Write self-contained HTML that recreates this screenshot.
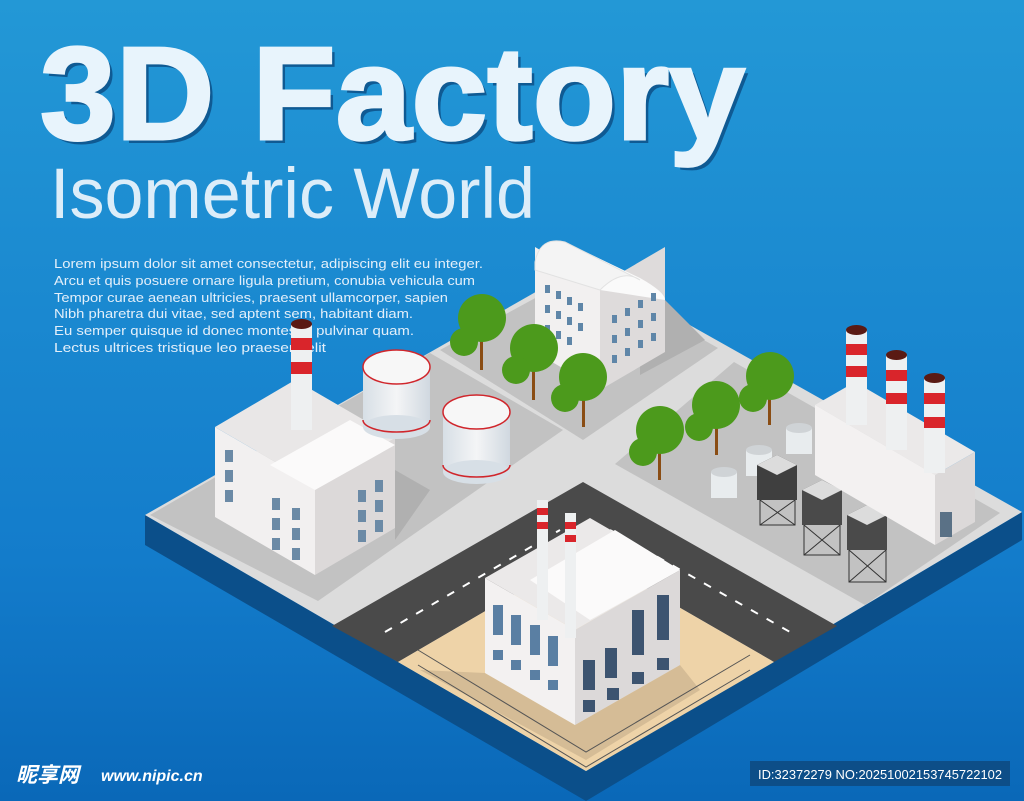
<!DOCTYPE html>
<html><head><meta charset="utf-8"><style>
html,body{margin:0;padding:0;width:1024px;height:801px;overflow:hidden}
svg{display:block}
</style></head><body>
<svg width="1024" height="801" viewBox="0 0 1024 801" xmlns="http://www.w3.org/2000/svg" font-family="Liberation Sans, sans-serif">
<defs>
<linearGradient id="bg" x1="0" y1="0" x2="0" y2="1">
<stop offset="0" stop-color="#2398d6"/><stop offset="0.7" stop-color="#137ccb"/><stop offset="1" stop-color="#0a68b8"/>
</linearGradient>
<linearGradient id="tk" x1="0" y1="0" x2="1" y2="0">
<stop offset="0" stop-color="#d7dfe6"/><stop offset="0.5" stop-color="#f4f5f6"/><stop offset="1" stop-color="#d0d8e0"/>
</linearGradient>
</defs>
<rect width="1024" height="801" fill="url(#bg)"/>
<!-- title -->
<text x="44" y="143" font-size="132" font-weight="bold" fill="#0f5a93" textLength="705" lengthAdjust="spacingAndGlyphs">3D Factory</text>
<text x="40" y="139" font-size="132" font-weight="bold" fill="#e8f4fc" stroke="#e8f4fc" stroke-width="3" textLength="705" lengthAdjust="spacingAndGlyphs">3D Factory</text>
<text x="50" y="218" font-size="71" fill="#dcedf9" textLength="485" lengthAdjust="spacingAndGlyphs">Isometric World</text>
<g font-size="13" fill="#e3effa">
<text x="54" y="268" textLength="429" lengthAdjust="spacingAndGlyphs">Lorem ipsum dolor sit amet consectetur, adipiscing elit eu integer.</text>
<text x="54" y="285" textLength="421" lengthAdjust="spacingAndGlyphs">Arcu et quis posuere ornare ligula pretium, conubia vehicula cum</text>
<text x="54" y="302" textLength="394" lengthAdjust="spacingAndGlyphs">Tempor curae aenean ultricies, praesent ullamcorper, sapien</text>
<text x="54" y="318" textLength="359" lengthAdjust="spacingAndGlyphs">Nibh pharetra dui vitae, sed aptent sem, habitant diam.</text>
<text x="54" y="335" textLength="360" lengthAdjust="spacingAndGlyphs">Eu semper quisque id donec montes in pulvinar quam.</text>
<text x="54" y="352" textLength="272" lengthAdjust="spacingAndGlyphs">Lectus ultrices tristique leo praesent elit</text>
</g>
<!-- platform base -->
<polygon points="145,515 145,545 586,801 1022,540 1022,512 586,771" fill="#0b4f8a"/>
<polygon points="145,515 583,265 1022,512 586,771" fill="#dcdcdc"/>
<!-- plots -->
<polygon points="150,515 430,353 563,430 318,601" fill="#c2c2c2"/>
<polygon points="440,350 583,272 718,348 583,440" fill="#c2c2c2"/>
<polygon points="615,464 734,362 1000,513 865,605" fill="#c2c2c2"/>
<!-- asphalt -->
<polygon points="332,626 583,482 837,626 774,662 585,553 398,662" fill="#4a4a4a"/>
<g stroke="#fff" stroke-width="2" stroke-dasharray="8,10">
<line x1="385" y1="632" x2="560" y2="530"/>
<line x1="610" y1="530" x2="790" y2="632"/>
</g>
<!-- sand -->
<polygon points="398,662 585,553 774,662 586,771" fill="#eed3a8"/>
<polygon points="485,673 575,725 680,665 700,690 586,760 420,670" fill="#b09a7a" opacity="0.4"/>
<g stroke="#555" stroke-width="1">
<polyline points="418,650 586,752 750,655" fill="none"/>
<polyline points="418,665 586,767 750,670" fill="none"/>
</g>
<!-- shadows -->
<polygon points="395,470 430,490 395,540" fill="#b0b0b0"/>
<polygon points="665,300 705,340 640,375 640,360" fill="#b0b0b0"/>
<!-- left building -->
<polygon points="215,427 315,485 315,575 215,517" fill="#f2f0f0"/>
<polygon points="315,485 395,438 395,528 315,575" fill="#dcd9d9"/>
<polygon points="215,427 315,485 395,438 295,380" fill="#e9e7e7"/>
<polygon points="270,465 350,420 395,445 315,490" fill="#fbfafa"/>
<g fill="#6b8aa6">
<rect x="225" y="450" width="8" height="12"/><rect x="225" y="470" width="8" height="12"/><rect x="225" y="490" width="8" height="12"/>
<rect x="272" y="498" width="8" height="12"/><rect x="272" y="518" width="8" height="12"/><rect x="292" y="508" width="8" height="12"/><rect x="292" y="528" width="8" height="12"/><rect x="292" y="548" width="8" height="12"/><rect x="272" y="538" width="8" height="12"/>
<rect x="358" y="490" width="8" height="12"/><rect x="375" y="480" width="8" height="12"/><rect x="358" y="510" width="8" height="12"/><rect x="375" y="500" width="8" height="12"/><rect x="358" y="530" width="8" height="12"/><rect x="375" y="520" width="8" height="12"/>
</g>
<!-- left chimney -->
<rect x="291" y="325" width="21" height="105" fill="#eef0f1"/>
<rect x="291" y="338" width="21" height="12" fill="#d9252b"/><rect x="291" y="362" width="21" height="12" fill="#d9252b"/>
<ellipse cx="301.5" cy="324" rx="10.5" ry="5" fill="#5a1a14"/>
<!-- tanks -->
<g>
<rect x="363" y="367" width="67" height="60" fill="url(#tk)"/>
<ellipse cx="396.5" cy="427" rx="33.5" ry="12" fill="#d7dfe6"/>
<path d="M363,420 A33.5,12 0 0 0 430,420" fill="none" stroke="#d0262c" stroke-width="1.5"/>
<ellipse cx="396.5" cy="367" rx="33.5" ry="17" fill="#f7f7f7" stroke="#d0262c" stroke-width="1.5"/>
<rect x="443" y="412" width="67" height="60" fill="url(#tk)"/>
<ellipse cx="476.5" cy="472" rx="33.5" ry="12" fill="#d7dfe6"/>
<path d="M443,465 A33.5,12 0 0 0 510,465" fill="none" stroke="#d0262c" stroke-width="1.5"/>
<ellipse cx="476.5" cy="412" rx="33.5" ry="17" fill="#f7f7f7" stroke="#d0262c" stroke-width="1.5"/>
</g>
<!-- top building -->
<polygon points="535,352 600,390 600,285 535,247" fill="#f2f0f0"/>
<polygon points="600,390 665,352 665,247 600,285" fill="#dedbdb"/>
<path d="M535,262 Q540,236 565,242 L640,278 Q665,292 665,300 L600,290 Q598,270 580,270 Z" fill="#fafafa"/>
<path d="M535,262 Q540,236 565,242 L640,280 Q622,268 600,290 L535,270 Z" fill="#f4f4f4" stroke="#e2e2e2"/>
<g fill="#5f86a8">
<rect x="545" y="285" width="5" height="8"/><rect x="556" y="291" width="5" height="8"/><rect x="567" y="297" width="5" height="8"/><rect x="578" y="303" width="5" height="8"/>
<rect x="545" y="305" width="5" height="8"/><rect x="556" y="311" width="5" height="8"/><rect x="567" y="317" width="5" height="8"/><rect x="578" y="323" width="5" height="8"/>
<rect x="545" y="325" width="5" height="8"/><rect x="556" y="331" width="5" height="8"/><rect x="567" y="337" width="5" height="8"/>
<rect x="612" y="315" width="5" height="8"/><rect x="625" y="308" width="5" height="8"/><rect x="638" y="300" width="5" height="8"/><rect x="651" y="293" width="5" height="8"/>
<rect x="612" y="335" width="5" height="8"/><rect x="625" y="328" width="5" height="8"/><rect x="638" y="320" width="5" height="8"/><rect x="651" y="313" width="5" height="8"/>
<rect x="612" y="355" width="5" height="8"/><rect x="625" y="348" width="5" height="8"/><rect x="638" y="340" width="5" height="8"/><rect x="651" y="333" width="5" height="8"/>
</g>
<!-- trees -->
<g>
<g fill="#8a4d14"><rect x="480" y="330" width="3" height="40"/><rect x="532" y="355" width="3" height="45"/><rect x="582" y="385" width="3" height="42"/><rect x="658" y="440" width="3" height="40"/><rect x="715" y="410" width="3" height="45"/><rect x="768" y="385" width="3" height="40"/></g>
<g fill="#4c9a1c">
<ellipse cx="482" cy="318" rx="24" ry="24"/><ellipse cx="464" cy="342" rx="14" ry="14"/>
<ellipse cx="534" cy="348" rx="24" ry="24"/><ellipse cx="516" cy="370" rx="14" ry="14"/>
<ellipse cx="583" cy="377" rx="24" ry="24"/><ellipse cx="565" cy="398" rx="14" ry="14"/>
<ellipse cx="660" cy="430" rx="24" ry="24"/><ellipse cx="643" cy="452" rx="14" ry="14"/>
<ellipse cx="716" cy="405" rx="24" ry="24"/><ellipse cx="699" cy="427" rx="14" ry="14"/>
<ellipse cx="770" cy="376" rx="24" ry="24"/><ellipse cx="753" cy="398" rx="14" ry="14"/>
</g>
</g>
<!-- small tanks -->
<g fill="#e8ecee">
<rect x="786" y="428" width="26" height="26"/><ellipse cx="799" cy="428" rx="13" ry="5" fill="#cfd3d6"/>
<rect x="746" y="450" width="26" height="26"/><ellipse cx="759" cy="450" rx="13" ry="5" fill="#cfd3d6"/>
<rect x="711" y="472" width="26" height="26"/><ellipse cx="724" cy="472" rx="13" ry="5" fill="#cfd3d6"/>
</g>
<!-- water towers -->
<g stroke="#333" stroke-width="1" fill="none">
<path d="M760,500 L760,525 L795,525 L795,500 M760,500 L795,525 M795,500 L760,525"/>
<path d="M804,525 L804,555 L840,555 L840,525 M804,525 L840,555 M840,525 L804,555"/>
<path d="M849,550 L849,582 L886,582 L886,550 M849,550 L886,582 M886,550 L849,582"/>
</g>
<g>
<polygon points="757,465 777,455 797,465 797,500 757,500" fill="#3f3f3f"/><polygon points="757,465 777,455 797,465 777,475" fill="#dcdcdc"/>
<polygon points="802,490 822,480 842,490 842,525 802,525" fill="#4a4a4a"/><polygon points="802,490 822,480 842,490 822,500" fill="#dcdcdc"/>
<polygon points="847,515 867,505 887,515 887,550 847,550" fill="#4a4a4a"/><polygon points="847,515 867,505 887,515 867,525" fill="#dcdcdc"/>
</g>
<!-- right factory -->
<polygon points="815,475 935,545 935,475 815,405" fill="#f3f1f1"/>
<polygon points="935,545 975,522 975,452 935,475" fill="#dcd9d9"/>
<polygon points="815,405 935,475 975,452 855,382" fill="#ebe9e9"/>
<rect x="940" y="512" width="12" height="25" fill="#5a7186"/>
<g>
<rect x="846" y="330" width="21" height="95" fill="#eef0f1"/><rect x="846" y="344" width="21" height="11" fill="#d9252b"/><rect x="846" y="366" width="21" height="11" fill="#d9252b"/><ellipse cx="856.5" cy="330" rx="10.5" ry="5" fill="#5a1a14"/>
<rect x="886" y="355" width="21" height="95" fill="#eef0f1"/><rect x="886" y="370" width="21" height="11" fill="#d9252b"/><rect x="886" y="393" width="21" height="11" fill="#d9252b"/><ellipse cx="896.5" cy="355" rx="10.5" ry="5" fill="#5a1a14"/>
<rect x="924" y="378" width="21" height="95" fill="#eef0f1"/><rect x="924" y="393" width="21" height="11" fill="#d9252b"/><rect x="924" y="417" width="21" height="11" fill="#d9252b"/><ellipse cx="934.5" cy="378" rx="10.5" ry="5" fill="#5a1a14"/>
</g>
<!-- bottom factory -->
<polygon points="485,673 575,725 575,630 485,578" fill="#f3f1f1"/>
<polygon points="575,725 680,665 680,570 575,630" fill="#dcd9d9"/>
<polygon points="485,578 575,630 680,570 590,518" fill="#ebe9e9"/>
<polygon points="530,580 615,530 680,570 590,620" fill="#fbfafa"/>
<g fill="#5a7fa3">
<rect x="493" y="605" width="10" height="30"/><rect x="511" y="615" width="10" height="30"/><rect x="530" y="625" width="10" height="30"/><rect x="548" y="636" width="10" height="30"/>
<rect x="493" y="650" width="10" height="10"/><rect x="511" y="660" width="10" height="10"/><rect x="530" y="670" width="10" height="10"/><rect x="548" y="680" width="10" height="10"/>
<rect x="583" y="660" width="12" height="30" fill="#3d5470"/><rect x="605" y="648" width="12" height="30" fill="#3d5470"/><rect x="632" y="610" width="12" height="45" fill="#3d5470"/><rect x="657" y="595" width="12" height="45" fill="#3d5470"/>
<rect x="583" y="700" width="12" height="12" fill="#3d5470"/><rect x="607" y="688" width="12" height="12" fill="#3d5470"/><rect x="632" y="672" width="12" height="12" fill="#3d5470"/><rect x="657" y="658" width="12" height="12" fill="#3d5470"/>
</g>
<rect x="537" y="500" width="11" height="120" fill="#eef0f1"/><rect x="537" y="508" width="11" height="7" fill="#d9252b"/><rect x="537" y="522" width="11" height="7" fill="#d9252b"/>
<rect x="565" y="513" width="11" height="125" fill="#eef0f1"/><rect x="565" y="522" width="11" height="7" fill="#d9252b"/><rect x="565" y="535" width="11" height="7" fill="#d9252b"/>
<!-- watermark -->
<text x="16" y="782" font-size="21" font-weight="bold" font-style="italic" fill="#fff" font-family="Liberation Sans, Noto Sans CJK SC, sans-serif">昵享网</text>
<text x="101" y="781" font-size="16" font-weight="bold" font-style="italic" fill="#fff">www.nipic.cn</text>
<rect x="750" y="761" width="260" height="25" fill="#0d4e88"/>
<text x="758" y="779" font-size="13" fill="#fff" textLength="244" lengthAdjust="spacingAndGlyphs">ID:32372279 NO:20251002153745722102</text>
</svg>
</body></html>
